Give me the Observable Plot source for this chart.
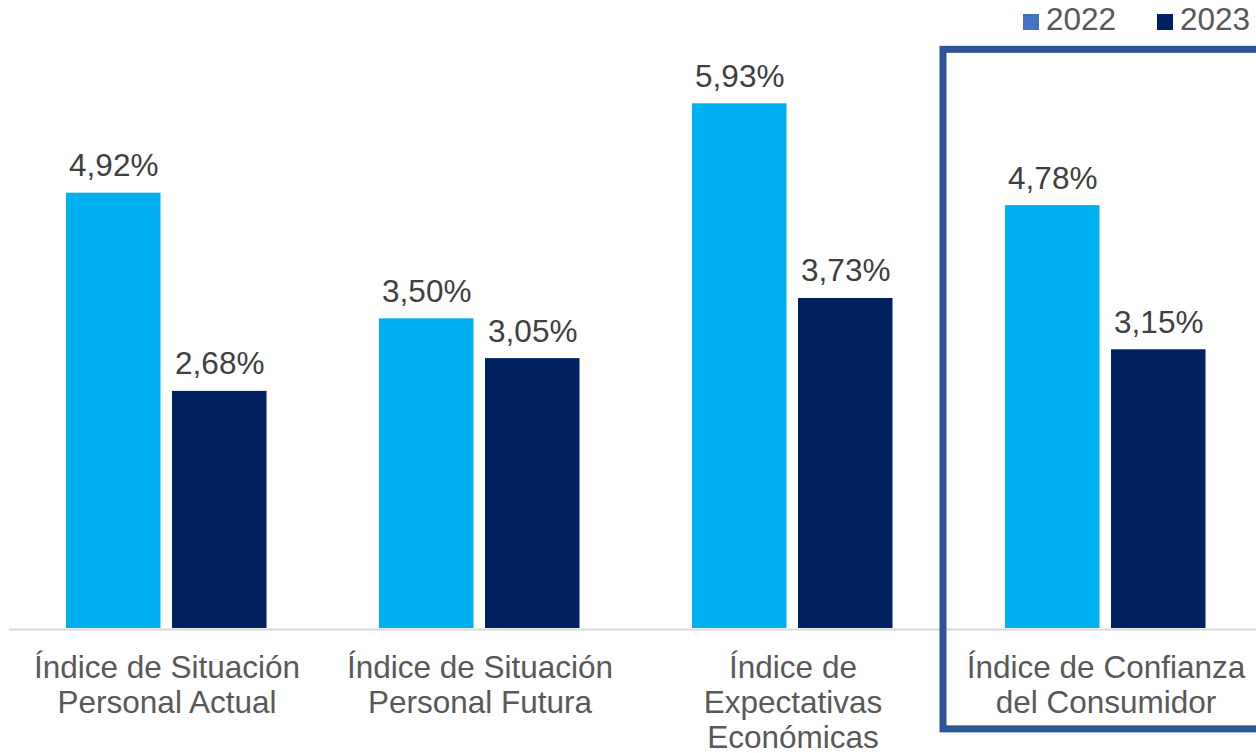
<!DOCTYPE html>
<html>
<head>
<meta charset="utf-8">
<script src="https://cdn.jsdelivr.net/npm/d3@7"></script>
<script src="https://cdn.jsdelivr.net/npm/@observablehq/plot@0.6"></script>
<style>
  html, body { margin: 0; padding: 0; overflow: hidden; background: #fff; }
  #wrap { position: relative; width: 1256px; height: 753px; font-family: "Liberation Sans", Arial, sans-serif; }
  .lg-sq { position: absolute; width: 16px; height: 16px; top: 14px; }
  .lg-tx { position: absolute; top: 4px; font-size: 31.5px; line-height: 31px; color: #595959; }
</style>
</head>
<body>
<div id="wrap"></div>
<script>
// Data
const categories = [
  "Índice de Situación\nPersonal Actual",
  "Índice de Situación\nPersonal Futura",
  "Índice de\nExpectativas\nEconómicas",
  "Índice de Confianza\ndel Consumidor"
];
const values2022 = [4.92, 3.50, 5.93, 4.78];
const values2023 = [2.68, 3.05, 3.73, 3.15];
const seriesNames = ["2022", "2023"];
const highlighted = ["Índice de Confianza\ndel Consumidor"];
const highlightTop = 6.54;
const highlightBottom = -1.14;

const rows2022 = categories.map((c, i) => ({cat: c, value: values2022[i]}));
const rows2023 = categories.map((c, i) => ({cat: c, value: values2023[i]}));
const fmt = v => v.toFixed(2).replace(".", ",") + "%";

const chart = Plot.plot({
  width: 1256,
  height: 753,
  marginLeft: 9,
  marginRight: 0,
  marginTop: 0,
  marginBottom: 0,
  style: {fontFamily: "'Liberation Sans', Arial, sans-serif", background: "transparent"},
  x: {domain: categories, range: [9, 1263], padding: 0, axis: null},
  y: {domain: [0, 7], range: [628, 628 - 7 * 88.48], axis: null},
  marks: [
    Plot.ruleY([0], {stroke: "#D9D9D9", strokeWidth: 2, dy: 1}),
    Plot.barY(rows2022, {x: "cat", y: "value", fill: "#00B0F0", insetLeft: 56, insetRight: 162.5}),
    Plot.barY(rows2023, {x: "cat", y: "value", fill: "#002060", insetLeft: 162, insetRight: 56.5}),
    Plot.text(rows2022, {x: "cat", y: "value", text: d => fmt(d.value), dx: -53.25, dy: -17, lineAnchor: "bottom", fontSize: 31.5, fill: "#404040"}),
    Plot.text(rows2023, {x: "cat", y: "value", text: d => fmt(d.value), dx: 52.75, dy: -17, lineAnchor: "bottom", fontSize: 31.5, fill: "#404040"}),
    Plot.text(categories, {x: d => d, y: () => 0, text: d => d, lineAnchor: "top", dy: 25, lineHeight: 35 / 31.5, fontSize: 31.5, fill: "#595959"}),
    Plot.barY(highlighted, {x: d => d, y1: () => highlightBottom, y2: () => highlightTop, fill: "none", stroke: "#2F5597", strokeWidth: 7, insetLeft: -6, insetRight: -20})
  ]
});
const wrap = document.getElementById("wrap");
wrap.appendChild(chart);

// Legend (HTML, overlaid at top right)
const legendColors = ["#4472C4", "#002060"];
const legendX = [1023, 1157];
seriesNames.forEach((name, i) => {
  const sq = document.createElement("div");
  sq.className = "lg-sq";
  sq.style.left = legendX[i] + "px";
  sq.style.background = legendColors[i];
  wrap.appendChild(sq);
  const tx = document.createElement("div");
  tx.className = "lg-tx";
  tx.style.left = (legendX[i] + 23) + "px";
  tx.textContent = name;
  wrap.appendChild(tx);
});
chart.style.position = "absolute";
chart.style.left = "0";
chart.style.top = "0";
</script>
</body>
</html>
